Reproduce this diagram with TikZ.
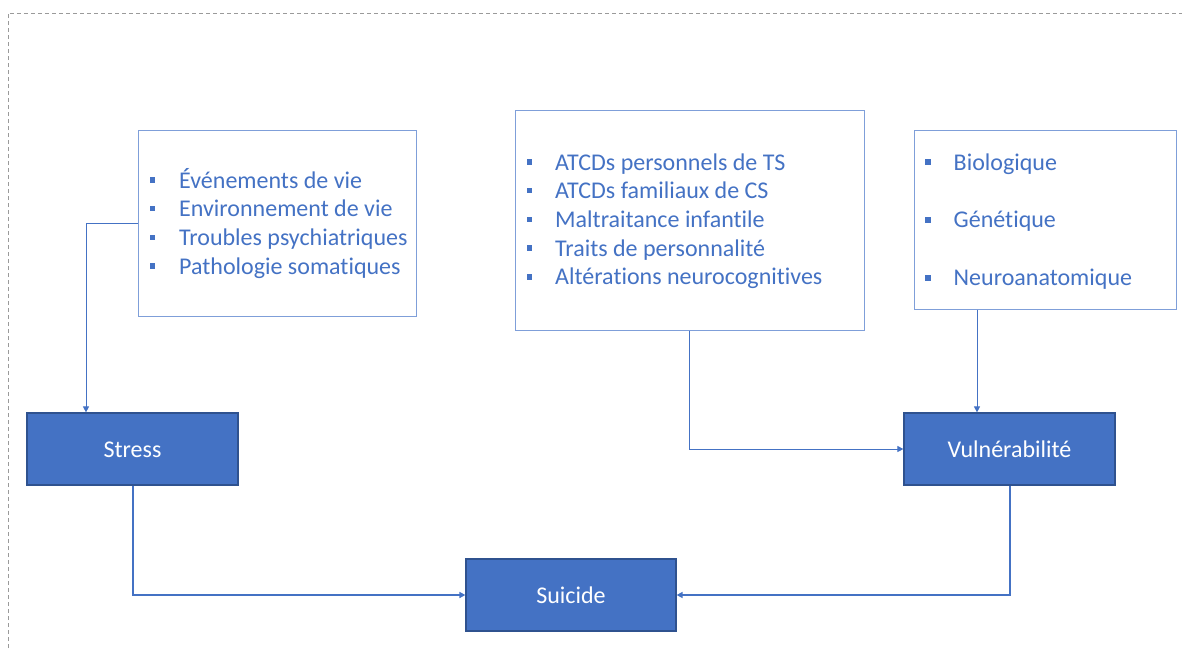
\documentclass[tikz,border=0pt]{standalone}
\usepackage{fontspec}
\setmainfont{Carlito}[Ligatures=NoCommon]
\usetikzlibrary{arrows.meta}
\definecolor{pblue}{HTML}{4472C4}
\definecolor{pdark}{HTML}{2F528F}
\definecolor{plight}{HTML}{7F9FD9}
\definecolor{pgray}{HTML}{9A9A9A}
\tikzset{
  listbox/.style={draw=plight, line width=1pt, fill=white, inner sep=0pt},
  mainbox/.style={draw=pdark, line width=1.2pt, fill=pblue, text=white, inner sep=0pt,
    text height=19pt, text depth=2pt, font=\fontsize{24}{29}\selectfont},
  itemtext/.style={anchor=base west, inner sep=0pt, text=pblue, font=\fontsize{24}{29}\selectfont},
  bul/.style={fill=pblue, inner sep=0pt, minimum size=5.5pt},
  thinarrow/.style={draw=pblue, line width=0.9pt, -{Triangle[length=6pt,width=6pt]}},
  thickarrow/.style={draw=pblue, line width=2pt, -{Triangle[length=6pt,width=6pt]}},
  frame/.style={draw=pgray, line width=1pt, dash pattern=on 4pt off 3pt}
}
\begin{document}
\begin{tikzpicture}[x=1pt,y=-1pt]
\useasboundingbox (0,0) rectangle (1182,648);
\draw[frame] (8,648) -- (8,13) -- (1182,13);

% list boxes
\node[listbox, minimum width=278pt, minimum height=186pt] (lb) at (277,223) {};
\node[listbox, minimum width=349pt, minimum height=220pt] (mb) at (689.5,220) {};
\node[listbox, minimum width=262pt, minimum height=179pt] (rb) at (1045,219.5) {};

% main boxes
\node[mainbox, minimum width=211pt, minimum height=72pt] (stress) at (132.5,449) {Stress};
\node[mainbox, minimum width=211pt, minimum height=72pt] (vuln) at (1009.5,449) {Vulnérabilité};
\node[mainbox, minimum width=210pt, minimum height=72pt] (suicide) at (571,595) {Suicide};

% left list
\node[bul] (lb1) at (152.5,180) {};
\node[bul] (lb2) at (152.5,208.7) {};
\node[bul] (lb3) at (152.5,237.3) {};
\node[bul] (lb4) at (152.5,266) {};
\node[itemtext] (l1) at (179,188) {Événements de vie};
\node[itemtext] (l2) at (179,216.7) {Environnement de vie};
\node[itemtext] (l3) at (179,245.3) {Troubles psychiatriques};
\node[itemtext] (l4) at (179,274) {Pathologie somatiques};

% middle list
\node[bul] (mb1) at (529.5,162) {};
\node[bul] (mb2) at (529.5,190.7) {};
\node[bul] (mb3) at (529.5,219.4) {};
\node[bul] (mb4) at (529.5,248.1) {};
\node[bul] (mb5) at (529.5,276.8) {};
\node[itemtext] (m1) at (555,170) {ATCDs personnels de TS};
\node[itemtext] (m2) at (555,198.7) {ATCDs familiaux de CS};
\node[itemtext] (m3) at (555,227.4) {Maltraitance infantile};
\node[itemtext] (m4) at (555,256.1) {Traits de personnalité};
\node[itemtext] (m5) at (555,284.8) {Altérations neurocognitives};

% right list
\node[bul] (rb1) at (928,162) {};
\node[bul] (rb2) at (928,220) {};
\node[bul] (rb3) at (928,278) {};
\node[itemtext] (r1) at (953.5,170) {Biologique};
\node[itemtext] (r2) at (953.5,227.5) {Génétique};
\node[itemtext] (r3) at (953.5,285.5) {Neuroanatomique};

% connectors
\coordinate (sin) at ([xshift=-46.5pt]stress.north);
\coordinate (vin) at ([xshift=-32.5pt]vuln.north);
\draw[thinarrow] (lb.west) -| (sin);
\draw[thinarrow] (mb.south) |- (vuln.west);
\draw[thinarrow] (vin |- rb.south) -- (vin);
\draw[thickarrow] (stress.south) |- (suicide.west);
\draw[thickarrow] (vuln.south) |- (suicide.east);
\end{tikzpicture}
\end{document}
